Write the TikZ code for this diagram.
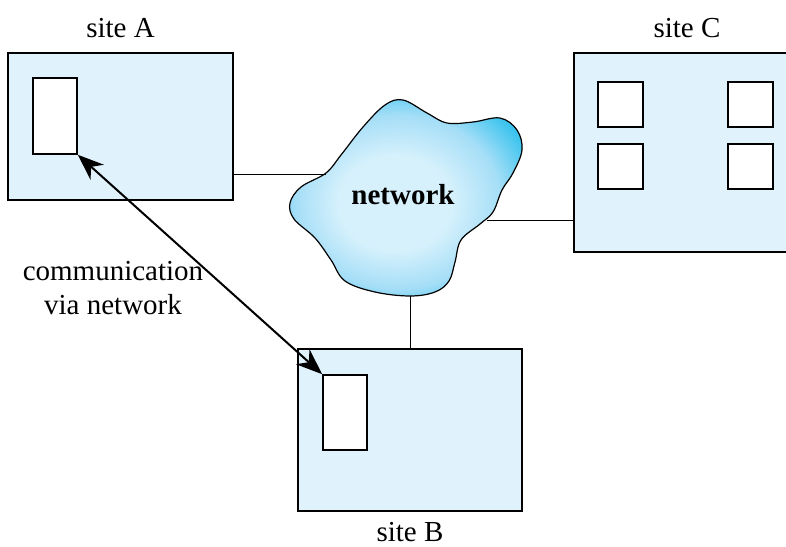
\documentclass[tikz,border=0pt]{standalone}
\usepackage{fontspec}
\setmainfont{Liberation Serif}
\usetikzlibrary{positioning,arrows.meta}

\definecolor{sitefill}{RGB}{224,242,252}
\definecolor{cloudin}{RGB}{214,241,252}
\definecolor{cloudmid}{RGB}{165,222,247}
\definecolor{cloudout}{RGB}{60,196,238}
\pgfdeclareradialshading{cloudshade}{\pgfpoint{-3bp}{-2bp}}{%
  color(0bp)=(cloudin); color(12bp)=(cloudin); color(22bp)=(cloudmid);
  color(30bp)=(cloudout); color(50bp)=(cloudout)}

\begin{document}
\begin{tikzpicture}[
    x=0.5pt, y=-0.5pt,
    font=\fontsize{14.5}{17}\selectfont,
    site/.style={rectangle, draw, line width=0.8pt, fill=sitefill, inner sep=0pt},
    proc/.style={rectangle, draw, line width=0.8pt, fill=white, inner sep=0pt},
    lbl/.style={inner sep=0pt},
    link/.style={line width=0.5pt},
    biarrow/.style={{Stealth[length=13pt,width=10pt,inset=4pt]}-{Stealth[length=13pt,width=10pt,inset=4pt]}, line width=1pt}
]
\clip (0,0) rectangle (786,546);

\node[site, minimum width=112.5pt, minimum height=73.5pt] (siteA) at (120.5,126.5) {};
\node[site, minimum width=112pt, minimum height=81pt] (siteB) at (410,430) {};
\node[site, minimum width=113pt, minimum height=99.5pt] (siteC) at (687,152.5) {};

\node[proc, minimum width=22pt, minimum height=38pt] (procA) at (55,116) {};
\node[proc, minimum width=22pt, minimum height=37.5pt] (procB) at (345,412.5) {};

\node[proc, minimum size=22.5pt] (procC1) at (620.5,104.5) {};
\node[proc, minimum size=22.5pt] (procC2) at (750.5,104.5) {};
\node[proc, minimum size=22.5pt] (procC3) at (620.5,166.5) {};
\node[proc, minimum size=22.5pt] (procC4) at (750.5,166.5) {};

\node[lbl, above=7pt of siteA] (labA) {site A};
\node[lbl, above=7pt of siteC] (labC) {site C};
\node[lbl, below=5pt of siteB] (labB) {site B};

% network cloud
\draw[line width=0.6pt, shading=cloudshade]
  plot[smooth cycle, tension=0.6] coordinates {
    (403,100) (427,113) (447,123) (473,122) (500,118) (517,130) (522,150)
    (513,173) (502,190) (493,212) (480,224) (461,240) (455,262) (449,281)
    (435,292) (410,296) (375,292) (345,281) (331,260) (315,238) (294,219)
    (290,203) (301,187) (326,173) (341,155) (363,127) (385,105)};
\node[font=\fontsize{14.5}{17}\selectfont\bfseries] (net) at (403,195) {network};

\coordinate (netA) at (326,174);
\coordinate (netC) at (487,220);
\coordinate (netB) at (410,296);

\draw[link] (siteA.east |- netA) -- (netA);
\draw[link] (netC) -- (siteC.west |- netC);
\draw[link] (netB) -- (siteB.north -| netB);

\draw[biarrow] (procA.south east) -- (procB.north west);
\node[lbl, align=center] (comm) at (113,288) {communication\\via network};

\end{tikzpicture}
\end{document}
